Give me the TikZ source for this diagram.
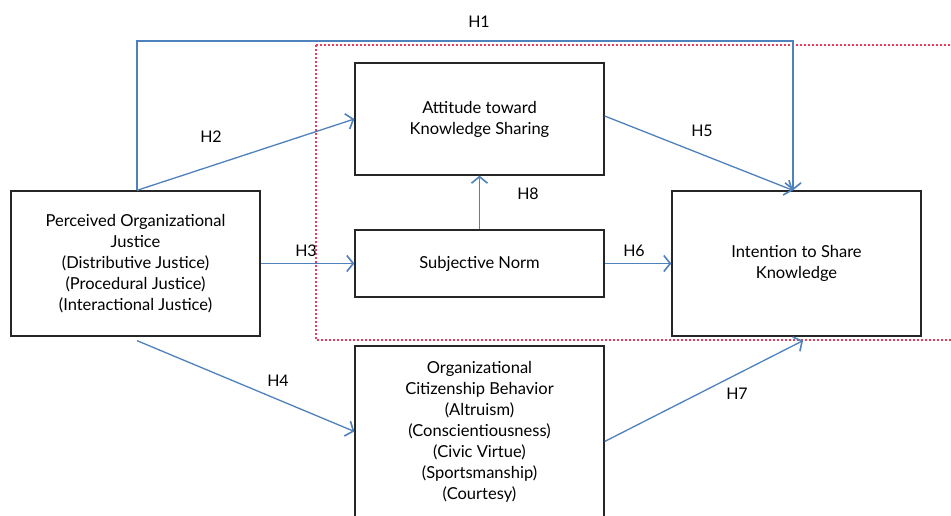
\documentclass[tikz,border=0pt]{standalone}
\usepackage{fontspec}
\setmainfont{Lato}
\usetikzlibrary{arrows.meta}
\definecolor{lblue}{HTML}{4F81BD}
\definecolor{dred}{HTML}{F03C5A}
\begin{document}
\begin{tikzpicture}[x=1pt,y=1pt,
  box/.style={draw=black!85,line width=1.3pt,align=center,inner sep=0pt,
    font=\fontsize{16.5}{21}\selectfont},
  conn/.style={draw=lblue,line width=1.3pt,-{Straight Barb[length=6.5pt,width=16pt,line width=1.6pt]}},
  hlab/.style={font=\fontsize{16}{18}\selectfont,inner sep=0pt}]
\useasboundingbox (0,0) rectangle (951,515);
\clip (0,0) rectangle (951,515);
\fill[white] (0,0) rectangle (951,515);
% dashed region
\draw[dred,line width=1.2pt,dash pattern=on 2pt off 2pt] (316,470) rectangle (960,175);
\node[box,minimum width=249,minimum height=145] (poj) at (135.5,251.5)
  {Perceived Organizational\\Justice\\(Distributive Justice)\\(Procedural Justice)\\(Interactional Justice)};
\node[box,minimum width=249,minimum height=112] (att) at (479.5,396)
  {Attitude toward\\Knowledge Sharing};
\node[box,minimum width=249,minimum height=67] (sn) at (479.5,251.5)
  {Subjective Norm};
\node[box,minimum width=249,minimum height=145] (int) at (796.5,251.5)
  {Intention to Share\\Knowledge};
\node[box,minimum width=249,minimum height=171] (ocb) at (479.5,83.5)
  {Organizational\\Citizenship Behavior\\(Altruism)\\(Conscientiousness)\\(Civic Virtue)\\(Sportsmanship)\\(Courtesy)};
% connectors
\coordinate (c1) at (137,474);
\draw[conn] ([xshift=1.5]poj.north) -- (c1) -| ([xshift=-3.5]int.north);
\draw[conn] ([xshift=1.5]poj.north) -- (att.west);
\draw[conn] (poj.east) -- (sn.west);
\draw[conn] ([xshift=1.5,yshift=-4]poj.south) -- (ocb.west);
\draw[conn] ([yshift=3]att.east) -- ([xshift=-3.5]int.north);
\draw[conn] (sn.east) -- (int.west);
\draw[conn] ([yshift=-10]ocb.east) -- ([xshift=6.5,yshift=-4]int.south);
\draw[conn] (sn.north) -- (att.south);
% labels
\node[hlab] (h1) at (479,493) {H1};
\node[hlab] (h2) at (211,378) {H2};
\node[hlab] (h3) at (306,264) {H3};
\node[hlab] (h4) at (278,134) {H4};
\node[hlab] (h5) at (702,384) {H5};
\node[hlab] (h6) at (634,264) {H6};
\node[hlab] (h7) at (737,121) {H7};
\node[hlab] (h8) at (528,321) {H8};
\end{tikzpicture}
\end{document}
